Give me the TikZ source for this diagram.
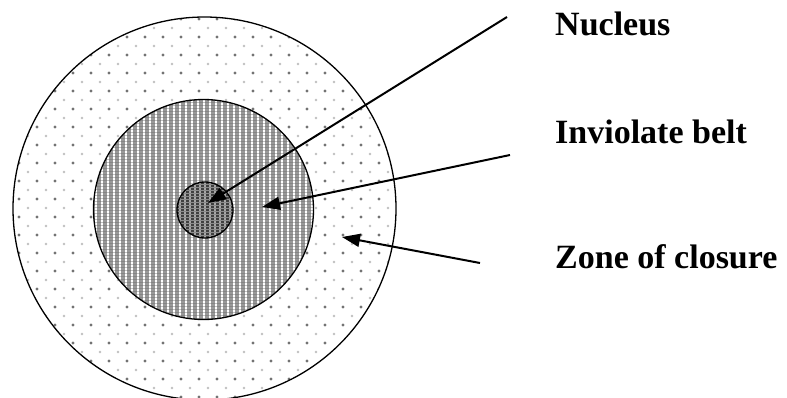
\documentclass[tikz,border=0pt]{standalone}
\usepackage{fontspec}
\setmainfont{Liberation Serif}
\usetikzlibrary{arrows.meta}
\tikzset{
  ring/.style={draw=black, line width=1.3pt},
  label/.style={anchor=base west, inner sep=0pt, font=\bfseries\fontsize{34}{37}\selectfont},
  pointer/.style={line width=2pt, -{Triangle[length=18pt,width=13pt]}}
}
\begin{document}
\begin{tikzpicture}[x=1pt,y=-1pt]
\useasboundingbox (0,0) rectangle (787,397);
\fill[white] (0,0) rectangle (787,397);
% zone of closure pattern
\begin{scope}
  \clip (204.5,208.5) circle[radius=191.5];
  \foreach \i in {0,...,23}{
    \foreach \j in {0,...,23}{
      \fill[black!55] (\i*18+1,\j*18+1) circle[radius=1.6];
      \fill[black!25] (\i*18+10,\j*18+10) circle[radius=1.3];
    }
  }
\end{scope}
% inviolate belt
\fill[black!40] (203.5,209.5) circle[radius=110];
\begin{scope}
  \clip (203.5,209.5) circle[radius=110];
  \foreach \i in {0,...,40}{
    \draw[white, line width=1.8pt] (90+\i*6,90) -- (90+\i*6,330);
  }
  \foreach \j in {0,...,80}{
    \draw[black!60, line width=0.6pt, opacity=0.4] (90,96+\j*3) -- (320,96+\j*3);
  }
\end{scope}
% nucleus fill
\fill[black!75] (205,210) circle[radius=28];
\begin{scope}
  \clip (205,210) circle[radius=28];
  \foreach \i in {0,...,12}{
    \draw[black!35, line width=1.2pt] (175+\i*5,180) -- (175+\i*5,240);
  }
  \foreach \j in {0,...,20}{
    \draw[black!45, line width=0.5pt] (175,181+\j*3) -- (235,181+\j*3);
  }
\end{scope}
% outlines
\node[ring, circle, minimum size=383pt, inner sep=0pt] (outer) at (204.5,208.5) {};
\node[ring, circle, minimum size=220pt, inner sep=0pt] (belt) at (203.5,209.5) {};
\node[ring, circle, minimum size=56pt, inner sep=0pt] (nucleus) at (205,210) {};
% labels
\node[label] (lnuc) at (555,35) {Nucleus};
\node[label] (lbelt) at (555,143) {Inviolate belt};
\node[label] (lzone) at (555,268) {Zone of closure};
% pointers
\coordinate (snuc) at (507,17);
\coordinate (tnuc) at (208,203);
\coordinate (sbelt) at (510,155);
\coordinate (tbelt) at (262,207);
\coordinate (szone) at (480,263);
\coordinate (tzone) at (342,237);
\draw[pointer] (snuc) -- (tnuc);
\draw[pointer] (sbelt) -- (tbelt);
\draw[pointer] (szone) -- (tzone);
\end{tikzpicture}
\end{document}
